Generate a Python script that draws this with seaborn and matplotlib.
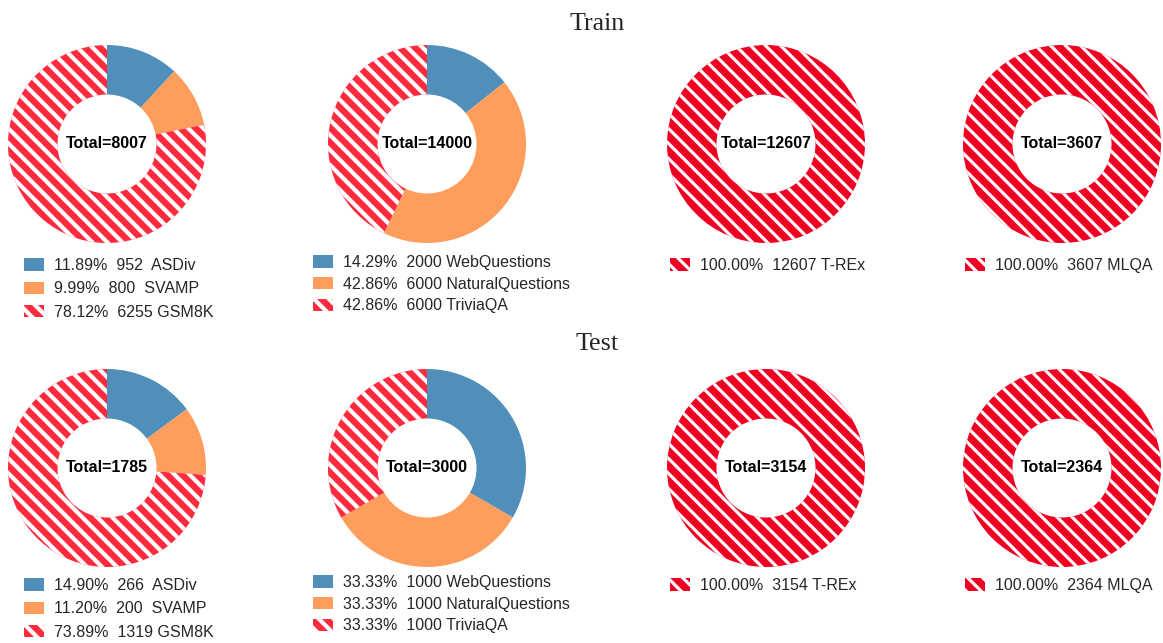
"""Train/test dataset composition shown as donut charts."""

import matplotlib

matplotlib.use("Agg")
import matplotlib.pyplot as plt
import seaborn as sns

# ---- data -----------------------------------------------------------------
math_names = ["ASDiv", "SVAMP", "GSM8K"]
math_train = [952, 800, 6255]
math_test = [266, 200, 1319]

qa_names = ["WebQuestions", "NaturalQuestions", "TriviaQA"]
qa_train = [2000, 6000, 6000]
qa_test = [1000, 1000, 1000]

trex_name = ["T-REx"]
trex_train = [12607]
trex_test = [3154]

mlqa_name = ["MLQA"]
mlqa_train = [3607]
mlqa_test = [2364]

row_titles = ["Train", "Test"]

# ---- style ----------------------------------------------------------------
sns.set_theme(style="white")
plt.rcParams["font.family"] = ["Liberation Sans", "DejaVu Sans"]

BLUE = "#4f8fba"
ORANGE = "#ff9d5c"
RED_LIGHT = "#fe2a3e"
RED_DEEP = "#ef0022"

W, H = 1163, 643
DPI = 90            # hatch spacing scales with dpi; 90 gives ~15 px stripes
PT = 72 / DPI       # pixels -> points


def fx(px):
    return px / W


def fy(py):
    return 1 - py / H


def draw_donut(fig, cx, cy, names, counts, legend_xy, spacing, r=99):
    ax = fig.add_axes([fx(cx - r), fy(cy + r), 2 * r / W, 2 * r / H])
    n = len(counts)
    if n == 1:
        colors = [RED_DEEP]
        hatch_lw = 3.2 * PT
    else:
        colors = [BLUE, ORANGE, RED_LIGHT][:n]
        hatch_lw = 4.2 * PT
    plt.rcParams["hatch.linewidth"] = hatch_lw
    wedges, _ = ax.pie(
        counts,
        colors=colors,
        startangle=90,
        counterclock=False,
        radius=1,
        wedgeprops=dict(width=0.5, linewidth=0, edgecolor="white"),
    )
    # last wedge is the hatched one
    wedges[-1].set_hatch("\\\\")
    if hasattr(wedges[-1], "set_hatch_linewidth"):
        wedges[-1].set_hatch_linewidth(hatch_lw)
    ax.set_xlim(-1, 1)
    ax.set_ylim(-1, 1)
    ax.axis("off")

    total = sum(counts)
    ax.text(0, 0, f"Total={total}", ha="center", va="center",
            fontsize=16 * PT, fontweight="bold", color="black")

    labels = []
    for name, c in zip(names, counts):
        pct = 100 * c / total
        labels.append(f"{pct:.2f}%  {str(c):<4} {name}")

    lx, ly = legend_xy
    fig.legend(
        wedges, labels,
        loc="upper left",
        bbox_to_anchor=(fx(lx), fy(ly)),
        bbox_transform=fig.transFigure,
        frameon=False,
        fontsize=16 * PT,
        borderpad=0,
        borderaxespad=0,
        handlelength=1.25,
        handleheight=0.8,
        handletextpad=0.65,
        labelspacing=spacing,
    )


fig = plt.figure(figsize=(W / DPI, H / DPI), dpi=DPI)

rows = [
    (144, [math_train, qa_train, trex_train, mlqa_train], 258, 255),
    (468, [math_test, qa_test, trex_test, mlqa_test], 578, 575),
]
names_all = [math_names, qa_names, trex_name, mlqa_name]
centers_x = [107, 427, 766, 1062]
legend_x = [24, 313, 670, 965]

for (cy, data, ly, ly_qa), title_y, title in zip(rows, [24, 344], row_titles):
    fig.text(fx(597), fy(title_y), title, ha="center", va="center",
             fontsize=26 * PT, family="Liberation Serif")
    for i, (cx, names, counts) in enumerate(zip(centers_x, names_all, data)):
        y_leg = ly_qa if i == 1 else ly
        spacing = 0.42 if i == 1 else 0.52
        draw_donut(fig, cx, cy, names, counts, (legend_x[i], y_leg), spacing)

fig.savefig("out.png", dpi=DPI)
plt.close(fig)
